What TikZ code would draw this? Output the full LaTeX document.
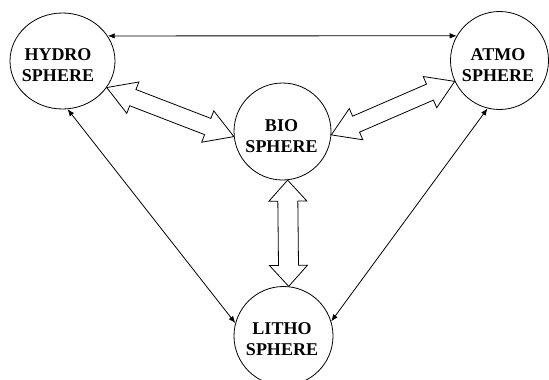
\documentclass[tikz,border=0pt]{standalone}
\usepackage{fontspec}
\setmainfont{Liberation Serif}
\usetikzlibrary{shapes.geometric,arrows.meta,calc}
\tikzset{
  sphere/.style={circle,draw,line width=0.8pt,inner sep=0pt},
  label text/.style={font=\bfseries\fontsize{18}{21}\selectfont,align=center,inner sep=0pt},
  thin link/.style={line width=0.8pt,{Latex[length=7pt,width=5.5pt]}-{Latex[length=7pt,width=5.5pt]}},
  hollow/.style={draw,line width=0.8pt,fill=white,line join=miter}
}
% #1 start, #2 end, #3 half shaft width, #4 half head width, #5 head length
\newcommand\hollowarrow[5]{%
  \draw[hollow] let \p1=($(#2)-(#1)$), \n1={atan2(\y1,\x1)}, \n2={veclen(\x1,\y1)} in
    [shift={(#1)}, rotate=\n1]
    (0,0) -- (#5,#4) -- (#5,#3) -- ({\n2-#5},#3) -- ({\n2-#5},#4) -- (\n2,0)
    -- ({\n2-#5},-#4) -- ({\n2-#5},-#3) -- (#5,-#3) -- (#5,-#4) -- cycle;}
\begin{document}
\begin{tikzpicture}[x=1pt,y=1pt]
\useasboundingbox (0,0) rectangle (549,-380);
% spheres
\node[ellipse,draw,line width=0.8pt,inner sep=0pt,minimum width=105pt,minimum height=96pt] (hydro) at (62.5,-61) {};
\node[sphere,minimum size=98pt] (atmo) at (499.5,-60.5) {};
\node[sphere,minimum size=97pt] (bio) at (282.5,-131.5) {};
\node[sphere,minimum size=99pt] (litho) at (283.5,-336) {};
% labels
\node[label text] (hydrotext) at (58,-65.4) {HYDRO\\SPHERE};
\node[label text] (atmotext) at (498,-65.4) {ATMO\\SPHERE};
\node[label text] (biotext) at (281.5,-136.4) {BIO\\SPHERE};
\node[label text] (lithotext) at (282,-339.4) {LITHO\\SPHERE};
% thin double arrows
\draw[thin link] (hydro.29) -- (atmo.150);
\draw[thin link] (hydro.276) -- (litho.165);
\draw[thin link] (atmo.256) -- (litho.17);
% hollow double arrows
\hollowarrow{hydro.329}{bio.186.5}{8.7}{16.8}{28}
\hollowarrow{atmo.205.5}{bio.356}{8.7}{17}{27}
\hollowarrow{bio.276}{litho.84.6}{10}{19}{21}
\end{tikzpicture}
\end{document}
